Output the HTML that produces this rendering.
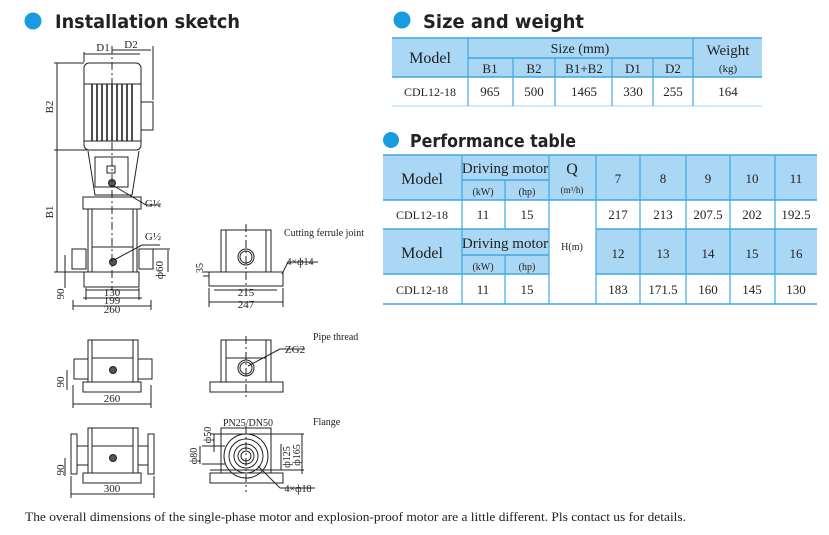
<!DOCTYPE html>
<html><head><meta charset="utf-8"><style>
body{margin:0;width:829px;height:535px;background:#fff;overflow:hidden}
svg{display:block}
.h{font-family:"DejaVu Sans","Liberation Sans",sans-serif;font-weight:bold;fill:#222}
.t{font-family:"Liberation Serif",serif;fill:#222}
</style></head><body>
<svg width="829" height="535" viewBox="0 0 829 535" xmlns="http://www.w3.org/2000/svg">
<!-- headers -->
<circle cx="33" cy="21" r="8.5" fill="#1a9be0"/>
<text x="55" y="28" class="h" font-size="19" textLength="185" lengthAdjust="spacingAndGlyphs">Installation sketch</text>
<circle cx="402" cy="20" r="8.5" fill="#1a9be0"/>
<text x="423" y="28" class="h" font-size="19" textLength="161" lengthAdjust="spacingAndGlyphs">Size and weight</text>
<circle cx="391" cy="140" r="8" fill="#1a9be0"/>
<text x="410" y="147" class="h" font-size="18" textLength="166" lengthAdjust="spacingAndGlyphs">Performance table</text>

<!-- size table -->
<g class="t">
<rect x="392" y="38" width="370" height="39" fill="#a9d7f4"/>
<line x1="392" y1="38" x2="762" y2="38" stroke="#3fa7e4" stroke-width="1.5"/>
<line x1="392" y1="77" x2="762" y2="77" stroke="#3fa7e4" stroke-width="1.5"/>
<line x1="468" y1="58" x2="693" y2="58" stroke="#3fa7e4" stroke-width="1.5"/>
<line x1="392" y1="106" x2="762" y2="106" stroke="#bfe4f8" stroke-width="1.5"/>
<g stroke="#3fa7e4" stroke-width="1.2">
<line x1="468" y1="38" x2="468" y2="106"/><line x1="693" y1="38" x2="693" y2="106"/>
<line x1="513" y1="58" x2="513" y2="106"/><line x1="555" y1="58" x2="555" y2="106"/>
<line x1="612" y1="58" x2="612" y2="106"/><line x1="653" y1="58" x2="653" y2="106"/>
</g>
<g font-size="13" text-anchor="middle">
<text x="430" y="63" font-size="16">Model</text>
<text x="580" y="53" font-size="14">Size (mm)</text>
<text x="728" y="55" font-size="15">Weight</text>
<text x="728" y="72" font-size="11">(kg)</text>
<text x="490" y="73">B1</text><text x="534" y="73">B2</text><text x="584" y="73">B1+B2</text><text x="633" y="73">D1</text><text x="673" y="73">D2</text>
<text x="430" y="96" font-size="12">CDL12-18</text><text x="490" y="96">965</text><text x="534" y="96">500</text><text x="584" y="96">1465</text><text x="633" y="96">330</text><text x="673" y="96">255</text><text x="728" y="96">164</text>
</g>
</g>

<!-- performance table -->
<g class="t">
<rect x="383" y="155" width="434" height="45" fill="#a9d7f4"/>
<rect x="383" y="229" width="166" height="45" fill="#a9d7f4"/>
<rect x="596" y="229" width="221" height="45" fill="#a9d7f4"/>
<g stroke="#3fa7e4" stroke-width="1.5">
<line x1="383" y1="155" x2="817" y2="155"/><line x1="383" y1="200" x2="817" y2="200"/>
<line x1="383" y1="229" x2="549" y2="229"/><line x1="596" y1="229" x2="817" y2="229"/>
<line x1="383" y1="274" x2="549" y2="274"/><line x1="596" y1="274" x2="817" y2="274"/>
<line x1="383" y1="304" x2="817" y2="304"/>
<line x1="462" y1="180" x2="549" y2="180"/><line x1="462" y1="255" x2="549" y2="255"/>
</g>
<g stroke="#3fa7e4" stroke-width="1.2">
<line x1="462" y1="155" x2="462" y2="304"/><line x1="505" y1="180" x2="505" y2="229"/><line x1="505" y1="255" x2="505" y2="304"/>
<line x1="549" y1="155" x2="549" y2="304"/><line x1="596" y1="155" x2="596" y2="304"/>
<line x1="640" y1="155" x2="640" y2="304"/><line x1="686" y1="155" x2="686" y2="304"/>
<line x1="730" y1="155" x2="730" y2="304"/><line x1="775" y1="155" x2="775" y2="304"/>
</g>
<g font-size="13" text-anchor="middle">
<text x="422" y="184" font-size="16">Model</text>
<text x="505" y="173" font-size="15">Driving motor</text>
<text x="483" y="195" font-size="10">(kW)</text><text x="527" y="195" font-size="10">(hp)</text>
<text x="572" y="174" font-size="16">Q</text><text x="572" y="193" font-size="9">(m³/h)</text>
<text x="618" y="183">7</text><text x="663" y="183">8</text><text x="708" y="183">9</text><text x="752" y="183">10</text><text x="796" y="183">11</text>
<text x="422" y="219" font-size="12">CDL12-18</text><text x="483" y="219">11</text><text x="527" y="219">15</text>
<text x="618" y="219">217</text><text x="663" y="219">213</text><text x="708" y="219">207.5</text><text x="752" y="219">202</text><text x="796" y="219">192.5</text>
<text x="572" y="250" font-size="10">H(m)</text>
<text x="422" y="258" font-size="16">Model</text>
<text x="505" y="248" font-size="15">Driving motor</text>
<text x="483" y="270" font-size="10">(kW)</text><text x="527" y="270" font-size="10">(hp)</text>
<text x="618" y="258">12</text><text x="663" y="258">13</text><text x="708" y="258">14</text><text x="752" y="258">15</text><text x="796" y="258">16</text>
<text x="422" y="294" font-size="12">CDL12-18</text><text x="483" y="294">11</text><text x="527" y="294">15</text>
<text x="618" y="294">183</text><text x="663" y="294">171.5</text><text x="708" y="294">160</text><text x="752" y="294">145</text><text x="796" y="294">130</text>
</g>
</g>

<!-- drawings -->
<g stroke="#222" fill="none" stroke-width="1">
<rect x="84" y="63" width="57" height="87" rx="5"/>
<line x1="84" y1="84" x2="141" y2="84"/><line x1="84" y1="141" x2="141" y2="141"/>
<g stroke-width="1.6">
<line x1="92" y1="84" x2="92" y2="141"/><line x1="97" y1="84" x2="97" y2="141"/><line x1="102" y1="84" x2="102" y2="141"/><line x1="107" y1="84" x2="107" y2="141"/><line x1="112" y1="84" x2="112" y2="141"/><line x1="117" y1="84" x2="117" y2="141"/><line x1="122" y1="84" x2="122" y2="141"/><line x1="127" y1="84" x2="127" y2="141"/><line x1="132" y1="84" x2="132" y2="141"/>
</g>
<rect x="141" y="102" width="12" height="28"/>
<path d="M88 151 L95 195 L132 195 L139 151"/>
<rect x="95" y="157" width="33" height="30"/>
<rect x="107" y="166" width="8" height="7"/>
<circle cx="112" cy="183" r="3.5" fill="#555"/>
<rect x="83" y="197" width="58" height="12"/>
<line x1="88" y1="209" x2="88" y2="272"/><line x1="92" y1="209" x2="92" y2="272"/>
<line x1="133" y1="209" x2="133" y2="272"/><line x1="137" y1="209" x2="137" y2="272"/>
<line x1="92" y1="247" x2="133" y2="247"/>
<rect x="72" y="249" width="14" height="20"/><rect x="139" y="249" width="14" height="20"/>
<circle cx="113" cy="262" r="3.5" fill="#555"/>
<rect x="84" y="272" width="55" height="15"/>
<line x1="112" y1="46" x2="112" y2="290" stroke-dasharray="8 3 2 3"/>
<line x1="84" y1="52" x2="84" y2="62"/><line x1="153" y1="46" x2="153" y2="100"/>
<line x1="84" y1="54" x2="140" y2="54"/><line x1="112" y1="50" x2="151" y2="50"/>
<line x1="54" y1="63" x2="84" y2="63"/><line x1="54" y1="150" x2="88" y2="150"/><line x1="54" y1="272" x2="84" y2="272"/>
<line x1="57" y1="63" x2="57" y2="272"/>
<line x1="65" y1="255" x2="65" y2="288"/>
<line x1="168" y1="250" x2="168" y2="272"/><line x1="153" y1="249" x2="170" y2="249"/>
<line x1="86" y1="288" x2="86" y2="300"/><line x1="139" y1="288" x2="139" y2="300"/>
<line x1="86" y1="290" x2="139" y2="290"/><line x1="83" y1="298" x2="142" y2="298"/>
<line x1="73" y1="300" x2="73" y2="310"/><line x1="151" y1="300" x2="151" y2="310"/><line x1="73" y1="306" x2="151" y2="306"/>
<line x1="114" y1="186" x2="146" y2="205"/><line x1="146" y1="205" x2="160" y2="205"/>
<line x1="114" y1="260" x2="142" y2="245"/><line x1="142" y1="245" x2="160" y2="245"/>

<rect x="221" y="230" width="50" height="42"/>
<line x1="226" y1="230" x2="226" y2="272"/><line x1="266" y1="230" x2="266" y2="272"/>
<circle cx="246" cy="257" r="8"/><circle cx="246" cy="257" r="6"/>
<rect x="209" y="272" width="74" height="14"/>
<line x1="246" y1="224" x2="246" y2="296" stroke-dasharray="8 3 2 3"/>
<line x1="214" y1="290" x2="277" y2="290"/><line x1="209" y1="302" x2="283" y2="302"/>
<line x1="209" y1="288" x2="209" y2="307"/><line x1="283" y1="288" x2="283" y2="307"/>
<line x1="203" y1="272" x2="209" y2="272"/><line x1="203" y1="276" x2="209" y2="276"/>
<line x1="282" y1="274" x2="288" y2="262"/><line x1="288" y1="262" x2="318" y2="262"/>

<rect x="88" y="340" width="50" height="42"/>
<line x1="92" y1="340" x2="92" y2="382"/><line x1="133" y1="340" x2="133" y2="382"/>
<line x1="92" y1="358" x2="133" y2="358"/>
<rect x="74" y="359" width="14" height="20"/><rect x="138" y="359" width="14" height="20"/>
<circle cx="113" cy="370" r="3.5" fill="#555"/>
<rect x="83" y="382" width="58" height="10"/>
<line x1="73" y1="404" x2="151" y2="404"/><line x1="73" y1="385" x2="73" y2="408"/><line x1="151" y1="385" x2="151" y2="408"/>
<line x1="67" y1="370" x2="67" y2="390"/>
<rect x="221" y="340" width="50" height="42"/>
<line x1="226" y1="340" x2="226" y2="382"/><line x1="266" y1="340" x2="266" y2="382"/>
<line x1="226" y1="358" x2="266" y2="358"/>
<circle cx="246" cy="368" r="8"/><circle cx="246" cy="368" r="6"/>
<rect x="210" y="382" width="73" height="10"/>
<line x1="246" y1="336" x2="246" y2="398" stroke-dasharray="8 3 2 3"/>
<line x1="248" y1="366" x2="280" y2="349"/><line x1="280" y1="349" x2="305" y2="349"/>

<rect x="88" y="428" width="50" height="45"/>
<line x1="92" y1="428" x2="92" y2="473"/><line x1="133" y1="428" x2="133" y2="473"/>
<line x1="92" y1="446" x2="133" y2="446"/>
<rect x="71" y="434" width="6" height="40"/><rect x="148" y="434" width="6" height="40"/>
<line x1="77" y1="446" x2="88" y2="446"/><line x1="77" y1="465" x2="88" y2="465"/>
<line x1="138" y1="446" x2="148" y2="446"/><line x1="138" y1="465" x2="148" y2="465"/>
<circle cx="113" cy="458" r="3.5" fill="#555"/>
<rect x="83" y="473" width="58" height="10"/>
<line x1="71" y1="494" x2="154" y2="494"/><line x1="71" y1="476" x2="71" y2="498"/><line x1="154" y1="476" x2="154" y2="498"/>
<line x1="65" y1="458" x2="65" y2="476"/>
<rect x="221" y="428" width="50" height="45"/>
<circle cx="246" cy="456" r="22"/><circle cx="246" cy="456" r="17"/><circle cx="246" cy="456" r="12"/><circle cx="246" cy="456" r="8"/><circle cx="246" cy="456" r="5"/>
<rect x="210" y="473" width="73" height="10"/>
<line x1="246" y1="426" x2="246" y2="492" stroke-dasharray="8 3 2 3"/>
<line x1="210" y1="434" x2="304" y2="434"/><line x1="210" y1="470" x2="304" y2="470"/>
<line x1="202" y1="446" x2="225" y2="446"/><line x1="202" y1="464" x2="225" y2="464"/>
<line x1="214" y1="434" x2="214" y2="452"/><line x1="200" y1="446" x2="200" y2="464"/>
<line x1="281" y1="444" x2="281" y2="470"/><line x1="302" y1="434" x2="302" y2="474"/>
<line x1="258" y1="466" x2="280" y2="488"/><line x1="280" y1="488" x2="315" y2="488"/>
</g>
<g class="t" font-size="11" text-anchor="middle">
<text x="103" y="51">D1</text><text x="131" y="48">D2</text>
<text x="53" y="107" transform="rotate(-90 53 107)">B2</text>
<text x="53" y="212" transform="rotate(-90 53 212)">B1</text>
<text x="64" y="294" transform="rotate(-90 64 294)">90</text>
<text x="163" y="270" transform="rotate(-90 163 270)">ф60</text>
<text x="112" y="296">130</text><text x="112" y="304">199</text><text x="112" y="313">260</text>
<text x="153" y="207">G½</text><text x="153" y="240">G½</text>
<text x="246" y="296">215</text><text x="246" y="308">247</text>
<text x="203" y="268" transform="rotate(-90 203 268)" font-size="10">35</text>
<text x="300" y="265" font-size="10">4×ф14</text>
<text x="284" y="236" text-anchor="start" font-size="10">Cutting ferrule joint</text>
<text x="64" y="382" transform="rotate(-90 64 382)">90</text>
<text x="112" y="402">260</text>
<text x="313" y="340" text-anchor="start" font-size="10">Pipe thread</text>
<text x="295" y="353">ZG2</text>
<text x="64" y="470" transform="rotate(-90 64 470)">90</text>
<text x="112" y="492">300</text>
<text x="313" y="425" text-anchor="start" font-size="10">Flange</text>
<text x="248" y="426" font-size="10">PN25/DN50</text>
<text x="211" y="435" transform="rotate(-90 211 435)" font-size="10">ф50</text>
<text x="197" y="456" transform="rotate(-90 197 456)" font-size="10">ф80</text>
<text x="290" y="457" transform="rotate(-90 290 457)" font-size="10">ф125</text>
<text x="300" y="455" transform="rotate(-90 300 455)" font-size="10">ф165</text>
<text x="298" y="492" font-size="10">4×ф18</text>
</g>
<text x="25" y="521" class="t" font-size="13" textLength="661" lengthAdjust="spacingAndGlyphs">The overall dimensions of the single-phase motor and explosion-proof motor are a little different. Pls contact us for details.</text>
</svg>
</body></html>
